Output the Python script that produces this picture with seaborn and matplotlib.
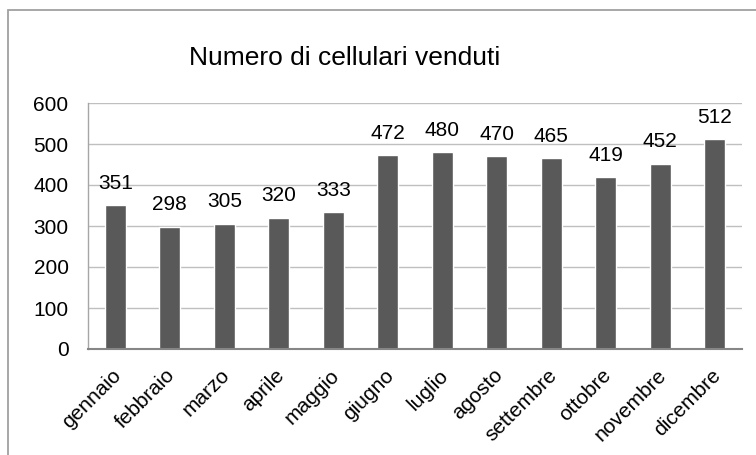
import matplotlib
matplotlib.use("Agg")
import matplotlib.pyplot as plt
import matplotlib.transforms as mtrans
import seaborn as sns
import pandas as pd
from matplotlib.patches import Rectangle

# data
months = ["gennaio", "febbraio", "marzo", "aprile", "maggio", "giugno",
          "luglio", "agosto", "settembre", "ottobre", "novembre", "dicembre"]
sold = [351, 298, 305, 320, 333, 472, 480, 470, 465, 419, 452, 512]
y_ticks = [0, 100, 200, 300, 400, 500, 600]
title = "Numero di cellulari venduti"

df = pd.DataFrame({"mese": months, "venduti": sold})

sns.set_theme(style="white")
plt.rcParams["font.family"] = ["Liberation Sans", "DejaVu Sans"]

fig = plt.figure(figsize=(7.56, 4.55), dpi=100)
ax = fig.add_axes([88 / 756, 1 - 349 / 455, (742 - 88) / 756, (349 - 103) / 455])

sns.barplot(data=df, x="mese", y="venduti", color="#595959", saturation=1,
            width=0.39, ax=ax)

ax.set_ylim(0, 600)
ax.set_yticks(y_ticks)
ax.set_xlim(-0.5, len(months) - 0.5)
ax.set_xlabel("")
ax.set_ylabel("")
ax.yaxis.grid(True, color="#bfbfbf", linewidth=1)
ax.set_axisbelow(True)

for side in ["top", "right"]:
    ax.spines[side].set_visible(False)
ax.spines["left"].set_color("#a6a6a6")
ax.spines["left"].set_linewidth(1)
ax.spines["bottom"].set_color("#868686")
ax.spines["bottom"].set_linewidth(1.5)

ax.tick_params(axis="y", length=0, pad=14, labelsize=15, colors="black")
ax.tick_params(axis="x", length=0, pad=12, labelsize=15, colors="black")
shift = mtrans.ScaledTranslation(-4 / 100, 0, fig.dpi_scale_trans)
for lbl in ax.get_xticklabels():
    lbl.set_rotation(45)
    lbl.set_ha("right")
    lbl.set_rotation_mode("anchor")
    lbl.set_transform(lbl.get_transform() + shift)

# value labels above the bars
for i, v in enumerate(sold):
    ax.annotate(str(v), (i, v), xytext=(0, 9), textcoords="offset points",
                ha="center", va="bottom", fontsize=15, color="black")

fig.text(189 / 756, 1 - 65 / 455, title, fontsize=19, ha="left",
         va="baseline", color="black")

# outer chart border (runs past the right and bottom edge)
fig.patches.append(Rectangle((7.5 / 756, -0.05), 1.1, 1 - 9.5 / 455 + 0.05,
                             transform=fig.transFigure, fill=False,
                             edgecolor="#a0a0a0", linewidth=1.3))

fig.savefig("out.png", dpi=100)
